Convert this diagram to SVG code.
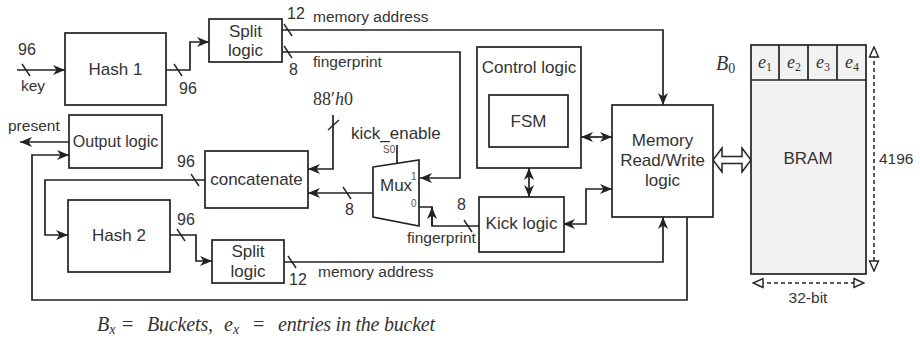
<svg xmlns="http://www.w3.org/2000/svg" width="920" height="339" viewBox="0 0 920 339">
<style>
  .box{fill:#fff;stroke:#222;stroke-width:1.7}
  .ln{fill:none;stroke:#222;stroke-width:1.7}
  .sl{stroke:#222;stroke-width:1.4}
  .t{font-family:"Liberation Sans",Arial,sans-serif;font-size:17px;fill:#333}
  .s{font-family:"Liberation Sans",Arial,sans-serif;font-size:15.5px;fill:#333}
  .n{font-family:"Liberation Sans",Arial,sans-serif;font-size:16px;fill:#333}
  .tiny{font-family:"Liberation Sans",Arial,sans-serif;font-size:10px;fill:#555}
  .m{font-family:"Liberation Serif","Times New Roman",serif;font-style:italic;font-size:18px;fill:#333}
  .cap{font-size:20px}
  .up{font-style:normal}
  .sub{font-size:12px}
  .c{text-anchor:middle}
  .dash{fill:none;stroke:#222;stroke-width:1.5;stroke-dasharray:4 3}
</style>
<defs>
  <marker id="ah" viewBox="0 0 12 10" refX="12" refY="5" markerWidth="12" markerHeight="10" markerUnits="userSpaceOnUse" orient="auto-start-reverse">
    <path d="M0,0 L12,5 L0,10 L3.5,5 z" fill="#222"/>
  </marker>
  <marker id="ho" viewBox="0 0 12 12" refX="11" refY="6" markerWidth="12" markerHeight="12" markerUnits="userSpaceOnUse" orient="auto-start-reverse">
    <path d="M1,1.5 L11,6 L1,10.5 z" fill="#fff" stroke="#222" stroke-width="1.4"/>
  </marker>
</defs>

<g id="connectors">
  <path class="ln" d="M17,70 H65" marker-end="url(#ah)"/>
  <path class="ln" d="M166,70 H190 V42 H209" marker-end="url(#ah)"/>
  <path class="ln" d="M282,30 H663 V105" marker-end="url(#ah)"/>
  <path class="ln" d="M282,52 H460 V178 H420" marker-end="url(#ah)"/>
  <path class="ln" d="M373,193 H308" marker-end="url(#ah)"/>
  <path class="ln" d="M333,115 V169 H308" marker-end="url(#ah)"/>
  <path class="ln" d="M397,145 V164"/>
  <path class="ln" d="M479,226 H432 V207 H419"/>
  <path class="ln" d="M432,226 V207" marker-end="url(#ah)"/>
  <path class="ln" d="M581,137 H612" marker-start="url(#ah)" marker-end="url(#ah)"/>
  <path class="ln" d="M529,168 V197" marker-start="url(#ah)" marker-end="url(#ah)"/>
  <path class="ln" d="M563,224 H586 V189 H612" marker-start="url(#ah)" marker-end="url(#ah)"/>
  <path class="ln" d="M205,180 H45 V235 H68" marker-end="url(#ah)"/>
  <path class="ln" d="M170,235 H196 V261 H212" marker-end="url(#ah)"/>
  <path class="ln" d="M284,262 H663 V217" marker-end="url(#ah)"/>
  <path class="ln" d="M687,217 V300 H32 V155 H69" marker-end="url(#ah)"/>
  <path class="ln" d="M69,142 H20" marker-end="url(#ah)"/>
  <path d="M713,160 L722,148 V156.5 H742 V148 L751,160 L742,172 V163.5 H722 V172 Z" fill="#fff" stroke="#222" stroke-width="1.5" stroke-linejoin="miter"/>
  <path class="dash" d="M874,47 V271" marker-start="url(#ho)" marker-end="url(#ho)"/>
  <path class="dash" d="M753,283 H864" marker-start="url(#ho)" marker-end="url(#ho)"/>
  <path class="sl" d="M22,64 L30,76"/>
  <path class="sl" d="M174,64 L182,76"/>
  <path class="sl" d="M284,24 L292,36"/>
  <path class="sl" d="M284,46 L292,58"/>
  <path class="sl" d="M343,187 L351,199"/>
  <path class="sl" d="M328,130 L339,120"/>
  <path class="sl" d="M464,220 L472,232"/>
  <path class="sl" d="M191,174 L199,186"/>
  <path class="sl" d="M177,229 L185,241"/>
  <path class="sl" d="M288,256 L296,268"/>
</g>

<g id="hash1"><rect class="box" x="65" y="33" width="101" height="72"/><text class="t c" x="115.5" y="75">Hash 1</text></g>
<g id="split1"><rect class="box" x="209" y="19" width="73" height="43"/><text class="t c" x="245.5" y="37">Split</text><text class="t c" x="245.5" y="56">logic</text></g>
<g id="control"><rect class="box" x="477" y="47" width="104" height="121"/><text class="t c" x="529" y="73">Control logic</text></g>
<g id="fsm"><rect class="box" x="489" y="95" width="79" height="52"/><text class="t c" x="528.5" y="127">FSM</text></g>
<g id="memory"><rect class="box" x="612" y="105" width="101" height="112"/><text class="t c" x="662.5" y="146">Memory</text><text class="t c" x="662.5" y="166">Read/Write</text><text class="t c" x="662.5" y="186">logic</text></g>
<g id="bram">
  <rect x="751" y="45" width="115" height="229" fill="#f2f2f2" stroke="#222" stroke-width="1.7"/>
  <path class="ln" d="M751,80 H866 M779,45 V80 M808,45 V80 M837,45 V80"/>
  <text class="t c" x="808" y="164">BRAM</text>
  <text class="m c" x="765" y="68" font-size="19">e<tspan class="up sub" dy="3">1</tspan></text>
  <text class="m c" x="794" y="68" font-size="19">e<tspan class="up sub" dy="3">2</tspan></text>
  <text class="m c" x="823" y="68" font-size="19">e<tspan class="up sub" dy="3">3</tspan></text>
  <text class="m c" x="852" y="68" font-size="19">e<tspan class="up sub" dy="3">4</tspan></text>
  <text class="m" x="716" y="70" style="font-size:20px">B<tspan class="up" style="font-size:14px" dy="3">0</tspan></text>
  <text class="s" x="879" y="164">4196</text>
  <text class="s c" x="808" y="303">32-bit</text>
</g>
<g id="mux">
  <path class="box" d="M373,167 L419,160 L419,226 L373,217 Z"/>
  <text class="t" x="380" y="191">Mux</text>
  <text class="tiny" x="411" y="180">1</text>
  <text class="tiny" x="411" y="207">0</text>
  <text class="tiny" x="383" y="153">S0</text>
</g>
<g id="kick"><rect class="box" x="479" y="197" width="85" height="55"/><text class="t c" x="521.5" y="229">Kick logic</text></g>
<g id="concat"><rect class="box" x="205" y="151" width="103" height="57"/><text class="t c" x="256.5" y="185">concatenate</text></g>
<g id="output"><rect class="box" x="69" y="115" width="93" height="53"/><text class="t c" x="115.5" y="147" style="font-size:16px">Output logic</text></g>
<g id="hash2"><rect class="box" x="68" y="200" width="102" height="72"/><text class="t c" x="119" y="241">Hash 2</text></g>
<g id="split2"><rect class="box" x="212" y="240" width="72" height="43"/><text class="t c" x="248" y="257">Split</text><text class="t c" x="248" y="277">logic</text></g>

<g id="labels">
  <text class="n" x="18" y="55">96</text>
  <text class="s" x="21" y="91">key</text>
  <text class="n" x="179" y="94">96</text>
  <text class="n" x="287" y="19">12</text>
  <text class="s" x="313" y="22">memory address</text>
  <text class="n" x="289" y="75">8</text>
  <text class="s" x="313" y="67">fingerprint</text>
  <text class="m" x="313" y="105"><tspan class="up">88′</tspan>h<tspan class="up">0</tspan></text>
  <text class="t" x="351" y="139">kick_enable</text>
  <text class="n" x="345" y="215">8</text>
  <text class="n" x="457" y="210">8</text>
  <text class="s" x="407" y="243">fingerprint</text>
  <text class="n" x="177" y="167">96</text>
  <text class="s" x="8" y="131">present</text>
  <text class="n" x="177" y="225">96</text>
  <text class="n" x="289" y="285">12</text>
  <text class="s" x="318" y="277">memory address</text>
  <text class="m cap" y="331"><tspan x="97">B</tspan><tspan style="font-size:14px" dy="3">x</tspan><tspan class="up" x="122" dy="-3">=</tspan><tspan x="147" textLength="66" lengthAdjust="spacing">Buckets,</tspan><tspan x="224">e</tspan><tspan style="font-size:14px" dy="3">x</tspan><tspan class="up" x="253" dy="-3">=</tspan><tspan x="278" textLength="157" lengthAdjust="spacing">entries in the bucket</tspan></text>
</g>
</svg>
